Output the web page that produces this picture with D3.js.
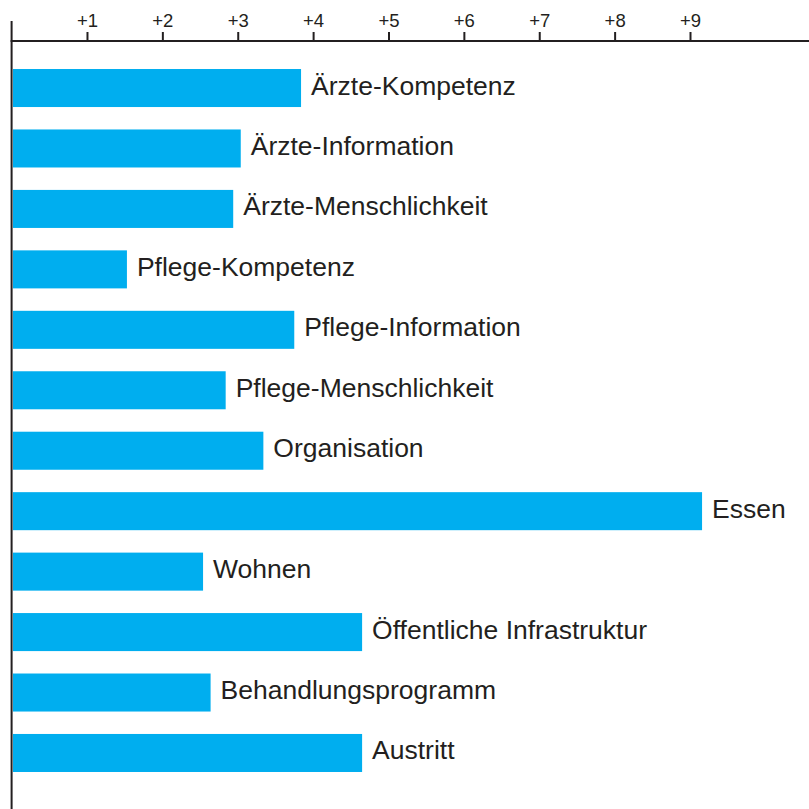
<!DOCTYPE html>
<html><head><meta charset="utf-8">
<script src="https://cdn.jsdelivr.net/npm/d3@7"></script>
<style>html,body{margin:0;padding:0;background:#fff;}svg{display:block;}</style>
</head><body>
<script>
const categories = ["Ärzte-Kompetenz","Ärzte-Information","Ärzte-Menschlichkeit","Pflege-Kompetenz","Pflege-Information","Pflege-Menschlichkeit","Organisation","Essen","Wohnen","Öffentliche Infrastruktur","Behandlungsprogramm","Austritt"];
const values = [3.84,3.04,2.94,1.53,3.75,2.84,3.34,9.16,2.54,4.65,2.64,4.65];
const tickValues = [1,2,3,4,5,6,7,8,9];
const tickLabels = ["+1","+2","+3","+4","+5","+6","+7","+8","+9"];

const W = 809, H = 809;
const ink = "#231f20", barColor = "#00aeef";
const font = "Arial, 'Liberation Sans', Helvetica, sans-serif";

const svg = d3.select("body").append("svg").attr("width", W).attr("height", H);

const x = d3.scaleLinear().domain([0, 9]).range([11.6, 690]);
const y = d3.scaleBand().domain(categories).range([57.8, 783.2]).paddingInner(0.371).paddingOuter(0.1855);

const data = categories.map((c, i) => ({cat: c, val: values[i]}));

// bars
svg.append("g").selectAll("rect").data(data).join("rect")
  .attr("x", x(0) + 1.4)
  .attr("y", d => y(d.cat))
  .attr("width", d => x(d.val) - x(0) - 1.4)
  .attr("height", y.bandwidth())
  .attr("fill", barColor);

// labels
svg.append("g").selectAll("text").data(data).join("text")
  .attr("x", d => x(d.val) + 10)
  .attr("y", d => y(d.cat) + y.bandwidth() / 2 + 6.5)
  .attr("font-family", font)
  .attr("font-size", 26.5)
  .attr("fill", ink)
  .text(d => d.cat);

// top axis
const axis = d3.axisTop(x).tickValues(tickValues).tickFormat((d, i) => tickLabels[i]).tickSize(9).tickPadding(5);
const ag = svg.append("g").attr("transform", "translate(0,41)").call(axis);
ag.select(".domain").remove();
ag.selectAll(".tick line").attr("stroke", ink).attr("stroke-width", 2);
ag.selectAll(".tick text").attr("font-family", font).attr("font-size", 18.5).attr("fill", ink);

svg.append("line").attr("x1", x(0) - 1).attr("x2", W).attr("y1", 41).attr("y2", 41)
  .attr("stroke", ink).attr("stroke-width", 2);
// vertical baseline
svg.append("line").attr("x1", x(0)).attr("x2", x(0)).attr("y1", 21).attr("y2", H)
  .attr("stroke", ink).attr("stroke-width", 2);
</script>
</body></html>
